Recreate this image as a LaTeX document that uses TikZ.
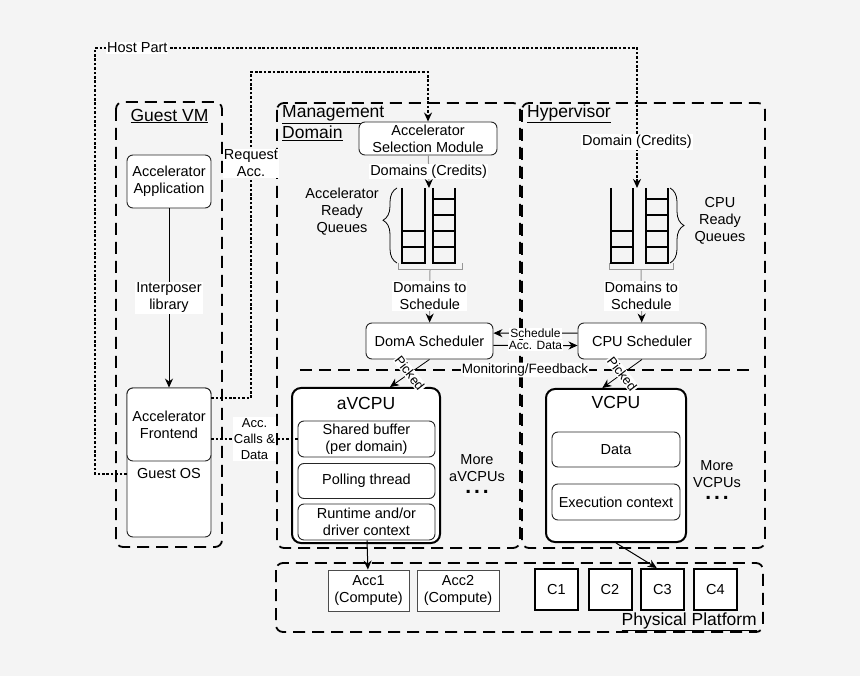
\documentclass[tikz,border=0pt]{standalone}
\usepackage{fontspec}
\setmainfont{Liberation Sans}
\usetikzlibrary{arrows.meta}
\usetikzlibrary{decorations.pathreplacing}
\definecolor{paper}{RGB}{244,244,244}
\definecolor{wire}{RGB}{150,150,150}

\begin{document}
\begin{tikzpicture}[x=1pt,y=-1pt,
    font=\fontsize{14.5}{17}\selectfont,
    >={Stealth[black,length=9pt,width=8pt]},
    region/.style={line width=1.8pt,dash pattern=on 12pt off 7pt,rounded corners=7pt},
    hostlink/.style={line width=2pt,dash pattern=on 2.6pt off 1.8pt},
    lbl/.style={fill=white,inner sep=1pt,align=center},
    title/.style={font=\fontsize{17.5}{21}\selectfont,align=left,inner sep=1pt},
    queue/.style={line width=2.4pt}]
\useasboundingbox (0,0) rectangle (860,676);
\fill[paper] (0,0) rectangle (860,676);

% dashed regions
\draw[region] (116,102) rectangle (222,547);
\draw[region] (277,103) rectangle (520,548);
\draw[region] (522,103) rectangle (765,548);
\draw[region] (276,563) rectangle (763,632);
\coordinate (monl) at (300,370);
\coordinate (monr) at (750,370);
\path[region] (monl) edge node[lbl,font=\fontsize{13.5}{16}\selectfont] {Monitoring/Feedback} (monr);

\node[title] (guestvmtitle) at (169.5,116) {\underline{Guest VM}};
\node[title,anchor=west] (mgmttitle) at (281,123.5) {\underline{Management}\\\underline{Domain}};
\node[title,anchor=west] (hyptitle) at (526,114) {\underline{Hypervisor}};
\node[title,anchor=east] (phystitle) at (758,622) {\underline{Physical Platform}};

% ready queues
\draw[queue] (402,188) |- (425,263) -- (425,188);
\draw[queue] (433,188) |- (455,263) -- (455,188);
\foreach \y in {231,247} \draw[queue] (402,\y) -- (425,\y);
\foreach \y in {199,215,231,247} \draw[queue] (433,\y) -- (455,\y);
\draw[queue] (611,188) |- (633,263) -- (633,188);
\draw[queue] (646,188) |- (668,263) -- (668,188);
\foreach \y in {231,247} \draw[queue] (611,\y) -- (633,\y);
\foreach \y in {199,215,231,247} \draw[queue] (646,\y) -- (668,\y);
\draw[decorate,decoration={brace,amplitude=14pt,aspect=0.57},line width=0.8pt] (397,263) -- (397,188);
\draw[decorate,decoration={brace,amplitude=14pt,aspect=0.5},line width=0.8pt] (670,188) -- (670,263);
\draw[wire,line width=1pt] (398,263) |- (462,270) -- (462,263);
\draw[wire,line width=1pt] (609,263) |- (673,270) -- (673,263);
\coordinate (aqin) at (429,188);
\coordinate (aqout) at (430,270);
\coordinate (cqin) at (637,188);
\coordinate (cqout) at (641,270);

\node[align=center] (aqlabel) at (342,212) {Accelerator\\Ready\\Queues};
\node[align=center] (cqlabel) at (720,221) {CPU\\Ready\\Queues};
\node[align=center] (moreavcpu) at (477,474) {More\\aVCPUs\\[-5pt]{\fontsize{21}{10}\selectfont\bfseries .\hspace{3pt}.\hspace{3pt}.}};
\node[align=center] (morevcpu) at (717,480) {More\\VCPUs\\[-5pt]{\fontsize{21}{10}\selectfont\bfseries .\hspace{3pt}.\hspace{3pt}.}};

\begin{scope}[every node/.style={draw=black!85,fill=white,rounded corners=6pt,align=center,inner sep=1pt,line width=0.9pt}]
    \node[minimum width=84,minimum height=53] (app) at (169,181.5) {Accelerator\\Application};
    \node[minimum width=84,minimum height=149] (guestos) at (169,462.5) {};
    \node[minimum width=84,minimum height=73] (frontend) at (169,424.5) {Accelerator\\Frontend};
    \node[minimum width=138,minimum height=33] (asm) at (428,138.5) {Accelerator\\Selection Module};
    \node[minimum width=127,minimum height=36] (doma) at (429.5,341) {DomA Scheduler};
    \node[minimum width=128,minimum height=36] (cpus) at (642,341) {CPU Scheduler};
    \node[line width=2pt,draw=black,rounded corners=9pt,minimum width=148,minimum height=155] (avcpu) at (366,465.5) {};
    \node[minimum width=137,minimum height=36] (buffer) at (366.5,439) {Shared buffer\\(per domain)};
    \node[minimum width=137,minimum height=35] (polling) at (366.5,481) {Polling thread};
    \node[minimum width=137,minimum height=36] (runtime) at (366.5,522) {Runtime and/or\\driver context};
    \node[line width=2pt,draw=black,rounded corners=9pt,minimum width=140,minimum height=153] (vcpu) at (616,465.5) {};
    \node[minimum width=128,minimum height=35] (data) at (616,449.5) {Data};
    \node[minimum width=128,minimum height=36] (exec) at (616,502) {Execution context};
    \node[sharp corners,draw=black!70,minimum width=81,minimum height=41] (acc1) at (368.5,590.5) {Acc1\\(Compute)};
    \node[sharp corners,draw=black!70,minimum width=82,minimum height=41] (acc2) at (458,590.5) {Acc2\\(Compute)};
    \foreach \i/\x in {1/556.5,2/610,3/662.5,4/715.5}
        \node[sharp corners,draw=black,line width=2pt,minimum width=43,minimum height=41] (c\i) at (\x,589.5) {C\i};
\end{scope}
\node (guestoslbl) at (169,474) {Guest OS};
\node[font=\fontsize{17.5}{21}\selectfont] (avcputitle) at (366,403) {aVCPU};
\node[font=\fontsize{17.5}{21}\selectfont] (vcputitle) at (616,402) {VCPU};

% host part links
\coordinate (hostleft) at (95,48);
\coordinate (hostright) at (637,48);
\coordinate (reqbend) at (251,72);
\draw[hostlink,->] (guestos.195) -| (hostleft) -- node[lbl,pos=0.078] {Host Part} (hostright)
    -- node[lbl,pos=0.67] {Domain (Credits)} (cqin);
\draw[hostlink,->] (frontend.32) -| node[lbl,pos=0.86] {Request\\Acc.} (reqbend) -| (asm.north);
\draw[hostlink] (frontend.east |- buffer.west) -- node[lbl,font=\fontsize{13}{16}\selectfont] {Acc.\\Calls \&\\Data} (buffer.west);

% connectors
\begin{scope}[every node/.style={lbl}]
    \path[->,line width=0.8pt] (app) edge node {Interposer\\library} (frontend);
    \path[->,line width=1pt] (asm) edge[draw=wire] node {Domains (Credits)} (aqin);
    \path[->,line width=1pt] (aqout) edge[draw=wire] node {Domains to\\Schedule} (doma);
    \path[->,line width=1pt] (cqout) edge[draw=wire] node {Domains to\\Schedule} (cpus);
    \path[->,line width=1pt] (cpus.173) edge node[font=\fontsize{12}{14}\selectfont] {Schedule} (doma.7);
    \path[->,line width=1pt] (doma.-4) edge node[font=\fontsize{12}{14}\selectfont] {Acc. Data} (cpus.184);
    \path[->,line width=0.8pt] (doma.south) edge node[rotate=-52,font=\fontsize{13}{15}\selectfont] {Picked} (avcpu.73);
    \path[->,line width=0.8pt] (cpus.south) edge node[rotate=-52,font=\fontsize{13}{15}\selectfont] {Picked} (vcpu.100);
    \path[->,line width=1pt] (runtime) edge (acc1);
    \path[->,line width=1pt] (vcpu.south) edge (c3.105);
\end{scope}
\end{tikzpicture}
\end{document}
